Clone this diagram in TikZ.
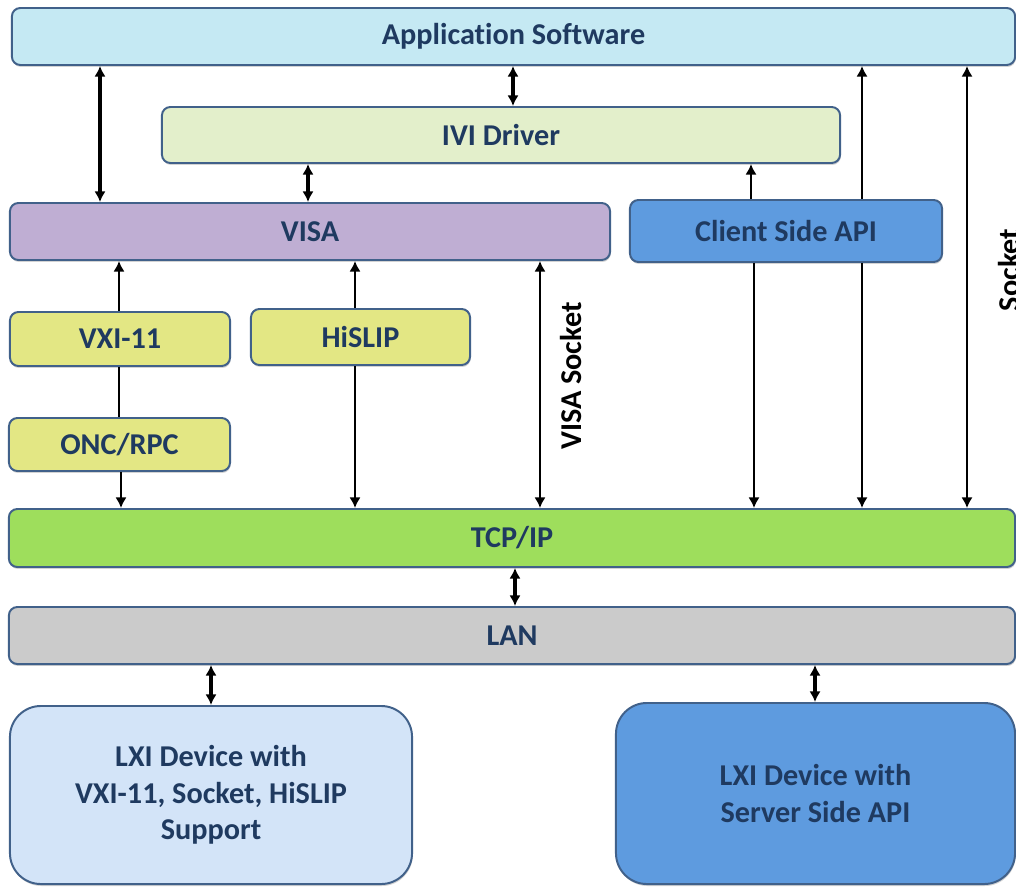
\documentclass[tikz,border=0pt]{standalone}
\usepackage{fontspec}
\setmainfont[Ligatures = NoCommon]{Carlito}
\usetikzlibrary{arrows.meta, positioning, shadows}

\definecolor{ink}{HTML}{1F3A60}
\definecolor{edge}{HTML}{41618A}
\definecolor{appfill}{HTML}{C5E9F3}
\definecolor{ivifill}{HTML}{E3EFCB}
\definecolor{visafill}{HTML}{BFAED3}
\definecolor{apifill}{HTML}{5E9BDF}
\definecolor{protofill}{HTML}{E3E784}
\definecolor{tcpfill}{HTML}{9EDE5C}
\definecolor{lanfill}{HTML}{CBCBCB}
\definecolor{devfill}{HTML}{D3E4F8}

\begin{document}
\begin{tikzpicture}[x = 0.025cm, y = -0.025cm, > = {Latex[length = 7.5pt, width = 8pt]}, semithick,
    font = \fontsize{21.5}{26}\selectfont\bfseries,
    layer/.style = {draw = edge, line width = 1.4pt, rounded corners = 6pt, inner sep = 0pt,
                    text = ink, align = center,
                    drop shadow = {shadow xshift = 0.5pt, shadow yshift = -1.4pt, opacity = 0.35}},
    device/.style = {layer, rounded corners = 22pt},
    link/.style = {line width = 2.1pt, black},
    bold link/.style = {link, line width = 2.7pt}]
    \useasboundingbox (0,0) rectangle (1016,886);

    % layers
    \node[layer, fill = appfill,   minimum width = 25.075cm, minimum height = 1.425cm] (app)    at (513.5,36.5) {Application Software};
    \node[layer, fill = ivifill,   minimum width = 16.95cm,  minimum height = 1.4cm]   (ivi)    at (501,135)    {IVI Driver};
    \node[layer, fill = visafill,  minimum width = 15cm,     minimum height = 1.425cm] (visa)   at (310,231.5)  {VISA};
    \node[layer, fill = apifill,   minimum width = 7.8cm,    minimum height = 1.55cm]  (api)    at (786,231)    {Client Side API};
    \node[layer, fill = protofill, minimum width = 5.5cm,    minimum height = 1.35cm]  (vxi)    at (120,339)    {VXI-11};
    \node[layer, fill = protofill, minimum width = 5.475cm,  minimum height = 1.4cm]   (hislip) at (360.5,337)  {HiSLIP};
    \node[layer, fill = protofill, minimum width = 5.525cm,  minimum height = 1.325cm] (onc)    at (119.5,444.5){ONC/RPC};
    \node[layer, fill = tcpfill,   minimum width = 25.15cm,  minimum height = 1.45cm]  (tcp)    at (512,538)    {TCP/IP};
    \node[layer, fill = lanfill,   minimum width = 25.15cm,  minimum height = 1.425cm] (lan)    at (512,635.5)  {LAN};
    \node[device, fill = devfill,  minimum width = 10.05cm,  minimum height = 4.45cm]  (lxia)   at (211,795)    {LXI Device with\\VXI-11, Socket, HiSLIP\\Support};
    \node[device, fill = apifill,  minimum width = 9.975cm,  minimum height = 4.525cm] (lxib)   at (815.5,793.5){LXI Device with\\Server Side API};

    % columns for the connectors
    \foreach \n/\x in {ca/100, cb/513, cc/308, cd/751, ce/754, cf/862, cg/967,
                      ch/540, ci/355, cj/119, ck/121, cl/515, cm/211, cn/815}
        \coordinate (\n) at (\x,0);

    % connectors
    \draw[bold link, <->] (app.south -| ca) -- (visa.north -| ca);
    \draw[bold link, <->] (app.south -| cb) -- (ivi.north -| cb);
    \draw[bold link, <->] (ivi.south -| cc) -- (visa.north -| cc);
    \draw[link, ->]  (api.north -| cd)    -- (ivi.south -| cd);
    \draw[link, ->]  (api.south -| ce)    -- (tcp.north -| ce);
    \draw[link, <-]  (app.south -| cf)    -- (api.north -| cf);
    \draw[link, ->]  (api.south -| cf)    -- (tcp.north -| cf);
    \draw[link, <->] (app.south -| cg)    -- (tcp.north -| cg);
    \draw[link, <->] (visa.south -| ch)   -- (tcp.north -| ch);
    \draw[link, <-]  (visa.south -| ci)   -- (hislip.north -| ci);
    \draw[link, ->]  (hislip.south -| ci) -- (tcp.north -| ci);
    \draw[link, <-]  (visa.south -| cj)   -- (vxi.north -| cj);
    \draw[link]      (vxi.south -| cj)    -- (onc.north -| cj);
    \draw[link, ->]  (onc.south -| ck)    -- (tcp.north -| ck);
    \draw[bold link, <->] (tcp.south -| cl) -- (lan.north -| cl);
    \draw[bold link, <->] (lan.south -| cm) -- (lxia.north -| cm);
    \draw[bold link, <->] (lan.south -| cn) -- (lxib.north -| cn);

    % labels
    \node[rotate = 90] (visasock) at (571,376) {VISA Socket};
    \node[rotate = 90] (sock)     at (1009,270) {Socket};
\end{tikzpicture}
\end{document}
